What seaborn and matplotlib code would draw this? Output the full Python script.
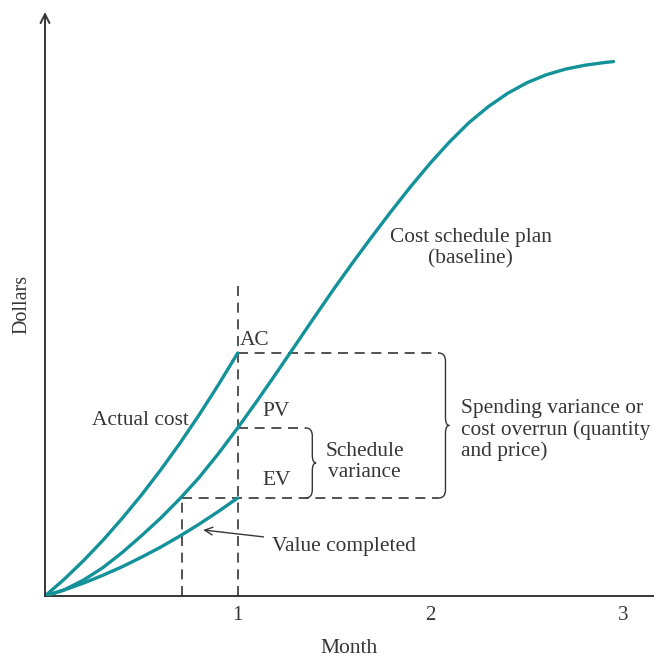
import numpy as np
import pandas as pd
import matplotlib
matplotlib.use("Agg")
import matplotlib.pyplot as plt
import seaborn as sns
from matplotlib.path import Path
from matplotlib.patches import PathPatch

sns.set_style("white")
plt.rcParams['font.family'] = ['Liberation Serif', 'DejaVu Serif']

# ---- data (months, dollars in tick units) ----
pv_month = [0, 0.1, 0.2, 0.3, 0.4, 0.5, 0.6, 0.7, 0.8, 0.9, 1.0,
            1.1, 1.2, 1.3, 1.4, 1.5, 1.6, 1.7, 1.8, 1.9, 2.0,
            2.1, 2.2, 2.3, 2.4, 2.5, 2.6, 2.7, 2.8, 2.9, 2.95]
pv_dollars = [0, 0.035, 0.09, 0.16, 0.245, 0.34, 0.44, 0.55, 0.67, 0.805, 0.95,
              1.102, 1.259, 1.419, 1.579, 1.737, 1.889, 2.036, 2.179, 2.317, 2.447,
              2.567, 2.675, 2.765, 2.84, 2.90, 2.945, 2.977, 2.999, 3.014, 3.02]

ac_month = [0, 0.1, 0.2, 0.3, 0.4, 0.5, 0.6, 0.7, 0.8, 0.9, 1.0]
ac_dollars = [0, 0.095, 0.20, 0.314, 0.438, 0.57, 0.712, 0.863, 1.024, 1.194, 1.373]

ev_month = [0, 0.1, 0.2, 0.3, 0.4, 0.5, 0.6, 0.7, 0.8, 0.9, 1.0]
ev_dollars = [0, 0.034, 0.073, 0.117, 0.165, 0.219, 0.276, 0.339, 0.406, 0.478, 0.554]

status_month = 1.0       # reporting date
ev_on_plan_month = 0.71  # date at which the plan reached the earned value
ac_now, pv_now, ev_now = ac_dollars[-1], pv_dollars[10], ev_dollars[-1]

x_ticks = [1, 2, 3]
x_tick_labels = ['1', '2', '3']
y_ticks = [1, 2, 3]

teal = '#13929a'
ink = '#363636'

fig = plt.figure(figsize=(6.54, 6.58), dpi=100)
ax = fig.add_axes([45 / 654, 62 / 658, 609 / 654, 584 / 658])
ax.set_xlim(0, 3.16)
ax.set_ylim(0, 3.30)

curves = pd.concat([
    pd.DataFrame({'month': pv_month, 'dollars': pv_dollars, 'series': 'PV'}),
    pd.DataFrame({'month': ac_month, 'dollars': ac_dollars, 'series': 'AC'}),
    pd.DataFrame({'month': ev_month, 'dollars': ev_dollars, 'series': 'EV'}),
])
sns.lineplot(data=curves, x='month', y='dollars', units='series', estimator=None,
             color=teal, linewidth=2.4, ax=ax, sort=False, zorder=3)

# axes: only bottom + left, left drawn as an arrow
for s in ['top', 'right', 'left']:
    ax.spines[s].set_visible(False)
ax.spines['bottom'].set_color(ink)
ax.spines['bottom'].set_linewidth(1.4)
ax.annotate('', xy=(0, 3.30), xytext=(0, 0), xycoords='data',
            arrowprops=dict(arrowstyle='->', color=ink, lw=1.4,
                            mutation_scale=16, shrinkA=0, shrinkB=0),
            annotation_clip=False)
ax.set_xticks(x_ticks)
ax.set_xticklabels(x_tick_labels)
ax.set_yticks(y_ticks)
ax.set_yticklabels([])
ax.tick_params(axis='x', direction='in', length=11, width=1.2, color=ink,
               labelsize=15, labelcolor=ink, pad=7)
ax.tick_params(axis='y', direction='in', length=11, width=1.2, color=ink)
ax.set_xlabel('Month', fontsize=15.5, color=ink, labelpad=10)
ax.set_ylabel('Dollars', fontsize=14.5, color=ink, labelpad=6)

# dashed guide lines
dash = dict(color=ink, lw=1.2, linestyle=(0, (6, 4)), zorder=2)
xb_small, xb_big = 1.387, 2.078
rx, ry, tip = 0.035, 0.045, 0.02
ax.plot([status_month, status_month], [0, 1.757], **dash)
ax.plot([ev_on_plan_month, ev_on_plan_month], [0, ev_now], **dash)
ax.plot([ev_on_plan_month, xb_big - rx], [ev_now, ev_now], **dash)
ax.plot([status_month, xb_big - rx], [ac_now, ac_now], **dash)
ax.plot([status_month, xb_small - rx], [pv_now, pv_now], **dash)


def brace(xb, ytop, ybot):
    ymid = (ytop + ybot) / 2
    verts = [(xb - rx, ytop), (xb, ytop), (xb, ytop - ry),
             (xb, ymid + ry),
             (xb, ymid), (xb + tip, ymid),
             (xb, ymid), (xb, ymid - ry),
             (xb, ybot + ry),
             (xb, ybot), (xb - rx, ybot)]
    codes = [Path.MOVETO, Path.CURVE3, Path.CURVE3,
             Path.LINETO,
             Path.CURVE3, Path.CURVE3,
             Path.CURVE3, Path.CURVE3,
             Path.LINETO,
             Path.CURVE3, Path.CURVE3]
    ax.add_patch(PathPatch(Path(verts, codes), fill=False, edgecolor=ink, lw=1.0))


brace(xb_small, pv_now, ev_now)
brace(xb_big, ac_now, ev_now)

# labels
txt = dict(fontsize=15.4, color=ink)
ax.text(1.01, 1.446, 'AC', ha='left', va='center', **txt)
ax.text(1.20, 1.04, 'PV', ha='center', va='center', **txt)
ax.text(1.20, 0.65, 'EV', ha='center', va='center', **txt)
ax.text(0.494, 0.994, 'Actual cost', ha='center', va='center', **txt)
ax.text(1.455, 0.757, 'Schedule\nvariance', ha='left', va='center',
        multialignment='center', linespacing=1.18, **txt)
ax.text(2.156, 0.938, 'Spending variance or\ncost overrun (quantity\nand price)',
        ha='left', va='center', linespacing=1.15, **txt)
ax.text(2.208, 1.966, 'Cost schedule plan\n(baseline)', ha='center', va='center',
        multialignment='center', linespacing=1.18, **txt)
ax.annotate('Value completed', xy=(0.821, 0.373), xytext=(1.179, 0.282),
            ha='left', va='center', **txt,
            arrowprops=dict(arrowstyle='->', color=ink, lw=1.0,
                            mutation_scale=14, shrinkA=4, shrinkB=0))

fig.savefig('out.png', dpi=100)
